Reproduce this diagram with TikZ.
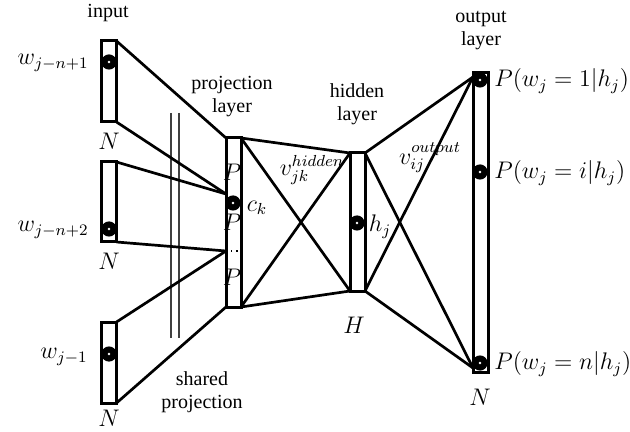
\documentclass[tikz,border=0pt]{standalone}
\usepackage[no-math]{fontspec}
\setmainfont{Liberation Serif}
\begin{document}
\begin{tikzpicture}[x=0.5pt,y=-0.5pt,
  lay/.style={draw,line width=1.5pt,rectangle,inner sep=0pt,outer sep=0pt,minimum width=7.5pt},
  con/.style={line width=1.35pt},
  blob/.style={circle,fill=black,inner sep=0pt,minimum size=7.6pt,
    path picture={\fill[white] (path picture bounding box.center) circle (0.7pt);}},
  txt/.style={font=\fontsize{10}{11.5}\selectfont,inner sep=0pt},
  mth/.style={font=\fontsize{12}{14}\selectfont,inner sep=0pt},
  shr/.style={line width=0.55pt,draw=black!75}]
\useasboundingbox (0,0) rectangle (630,432);
% input boxes
\node[lay,minimum height=40.5pt] (in1) at (109,81.5) {};
\node[lay,minimum height=40pt] (in2) at (109,202) {};
\node[lay,minimum height=40.5pt] (in3) at (109,362.5) {};
% projection, hidden, output
\node[lay,minimum height=84.5pt] (proj) at (233.5,222.5) {};
\node[lay,minimum height=69pt] (hid) at (357.5,222) {};
\node[lay,minimum height=149.5pt] (out) at (480.5,222.5) {};
% junction points
\coordinate (j1) at (226,194);
\coordinate (j2) at (226,251);
\coordinate (j2r) at (240,251);
\coordinate (o1) at (473,77);
\coordinate (on) at (473,368);
% shared projection lines
\draw[shr] (171,113) coordinate (s1) -- (171,338) coordinate (s2);
\draw[shr] (179,113) coordinate (s3) -- (179,338) coordinate (s4);
% input to projection
\draw[con] (in1.north east) -- (proj.north west);
\draw[con] (in1.south east) -- (j1);
\draw[con] (in2.north east) -- (j1);
\draw[con] (in2.south east) -- (j2);
\draw[con] (in3.north east) -- (j2);
\draw[con] (in3.south east) -- (proj.south west);
\draw[line width=0.6pt,dotted] (j2) -- (j2r);
% projection to hidden
\draw[con] (proj.north east) -- (hid.north west);
\draw[con] (proj.north east) -- (hid.south west);
\draw[con] (proj.south east) -- (hid.north west);
\draw[con] (proj.south east) -- (hid.south west);
% hidden to output
\draw[con] (hid.north east) -- (o1);
\draw[con] (hid.north east) -- (on);
\draw[con] (hid.south east) -- (o1);
\draw[con] (hid.south east) -- (on);
% dots
\node[blob] (d1) at (109,62) {};
\node[blob] (d2) at (109,229) {};
\node[blob] (d3) at (109,354) {};
\node[blob] (dp) at (233,203) {};
\node[blob] (dh) at (357,223) {};
\node[blob] (do1) at (480,80) {};
\node[blob] (doi) at (480,172) {};
\node[blob] (don) at (480,363) {};
% labels
\node[mth,anchor=east] (lw1) at (89,63) {$w_{j-n+1}$};
\node[mth,anchor=east] (lw2) at (89,230) {$w_{j-n+2}$};
\node[mth,anchor=east] (lw3) at (88,357) {$w_{j-1}$};
\node[mth] (n1) at (109,141) {$N$};
\node[mth] (n2) at (109,261) {$N$};
\node[mth] (n3) at (109,418) {$N$};
\node[mth] (p1) at (232,172) {$P$};
\node[mth] (p2) at (232,222) {$P$};
\node[mth] (p3) at (232,277) {$P$};
\node[mth] (ck) at (257,208) {$c_k$};
\node[mth] (vh) at (312,170) {$v_{jk}^{hidden}$};
\node[mth] (hj) at (380,227) {$h_j$};
\node[mth] (vo) at (430,158) {$v_{ij}^{output}$};
\node[mth] (hH) at (354,325) {$H$};
\node[mth] (nN) at (480,397) {$N$};
\node[mth,anchor=west] (l1) at (494,81) {$P(w_j=1|h_j)$};
\node[mth,anchor=west] (li) at (494,173) {$P(w_j=i|h_j)$};
\node[mth,anchor=west] (ln) at (494,364) {$P(w_j=n|h_j)$};
\node[txt] (tin) at (108,13) {input};
\node[txt,align=center] (tproj) at (232,97) {projection\\layer};
\node[txt,align=center] (thid) at (357,104) {hidden\\layer};
\node[txt,align=center] (tout) at (481,31) {output\\layer};
\node[txt,align=center] (tsh) at (202,392) {shared\\projection};
\end{tikzpicture}
\end{document}
